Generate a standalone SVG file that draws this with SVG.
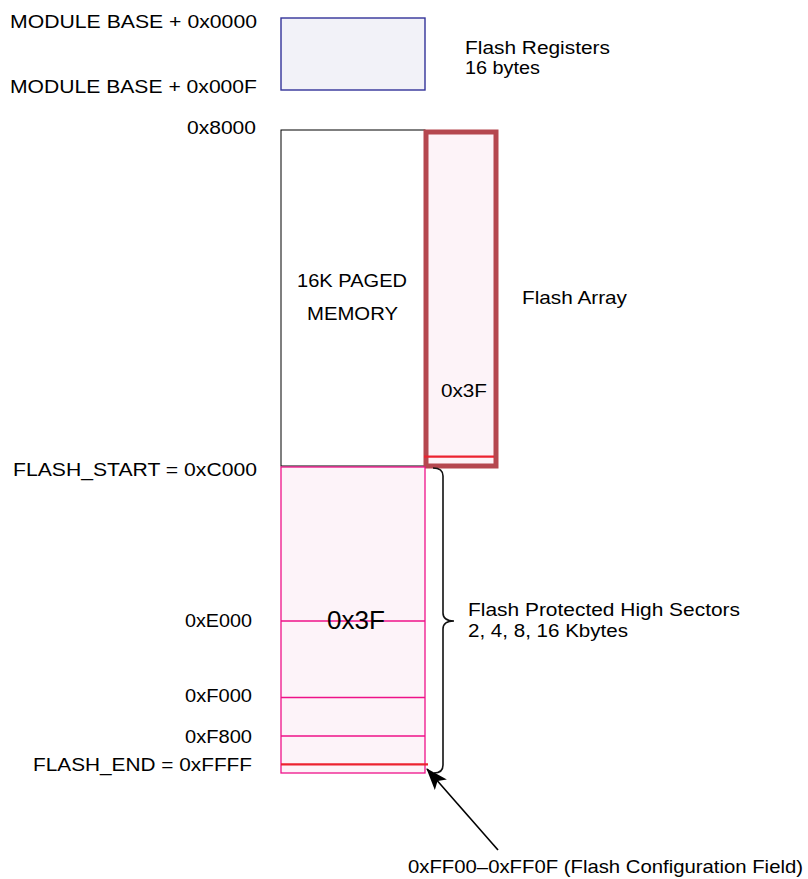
<svg xmlns="http://www.w3.org/2000/svg" width="808" height="879" viewBox="0 0 808 879">
<style>
text { font-family: "Liberation Sans", Arial, Helvetica, sans-serif; font-size: 18.5px; fill: #000; }
.sm { font-size: 17.5px; }
.sec { stroke: #ee1289; stroke-width: 1.3; fill: none; }
.red { stroke: #ec2330; stroke-width: 2.2; }
</style>
<defs>
<marker id="ah2" markerWidth="22" markerHeight="16" refX="21" refY="8" orient="auto" markerUnits="userSpaceOnUse" viewBox="0 0 22 16">
<path d="M0,0 L22,8 L0,16 L5,8 Z" fill="#000"/>
</marker>
</defs>

<g id="labels-left">
<text x="10" y="28" textLength="247" lengthAdjust="spacingAndGlyphs">MODULE BASE + 0x0000</text>
<text x="10" y="93" textLength="247" lengthAdjust="spacingAndGlyphs">MODULE BASE + 0x000F</text>
<text x="187" y="134" textLength="69" lengthAdjust="spacingAndGlyphs">0x8000</text>
<text x="13" y="476" textLength="244" lengthAdjust="spacingAndGlyphs">FLASH_START = 0xC000</text>
<text x="185" y="627" textLength="67" lengthAdjust="spacingAndGlyphs">0xE000</text>
<text x="185" y="702" textLength="67" lengthAdjust="spacingAndGlyphs">0xF000</text>
<text x="185" y="743" textLength="67" lengthAdjust="spacingAndGlyphs">0xF800</text>
<text x="33" y="771" textLength="219" lengthAdjust="spacingAndGlyphs">FLASH_END = 0xFFFF</text>
</g>

<g id="flash-registers">
<rect x="281" y="18" width="144" height="72" fill="#f2f2f8" stroke="#333399" stroke-width="1.4"/>
<text class="sm" x="465" y="54" textLength="145" lengthAdjust="spacingAndGlyphs">Flash Registers</text>
<text class="sm" x="465" y="74" textLength="75" lengthAdjust="spacingAndGlyphs">16 bytes</text>
</g>

<g id="paged-memory">
<rect x="281" y="130" width="144" height="336" fill="#ffffff" stroke="#000" stroke-width="1"/>
<text x="297" y="287" textLength="110" lengthAdjust="spacingAndGlyphs">16K PAGED</text>
<text x="307" y="320" textLength="91" lengthAdjust="spacingAndGlyphs">MEMORY</text>
</g>

<g id="flash-array">
<rect x="426" y="132" width="70" height="334" fill="#fdf3f8" stroke="#b5474f" stroke-width="5"/>
<line x1="424" y1="456.7" x2="494" y2="456.7" class="red"/>
<text x="441" y="397" textLength="46" lengthAdjust="spacingAndGlyphs">0x3F</text>
<text x="522" y="304" textLength="105" lengthAdjust="spacingAndGlyphs">Flash Array</text>
</g>

<g id="protected-sectors">
<rect x="281" y="467" width="144" height="306" fill="#fdf3f9" stroke="#ee1289" stroke-width="1.3"/>
<line x1="281" y1="621" x2="425" y2="621" class="sec"/>
<line x1="281" y1="697.5" x2="425" y2="697.5" class="sec"/>
<line x1="281" y1="736" x2="425" y2="736" class="sec"/>
<line x1="281" y1="764.3" x2="428" y2="764.3" class="red"/>
<text x="327" y="629" textLength="58" lengthAdjust="spacingAndGlyphs" style="font-size:26px">0x3F</text>
<text class="sm" x="468" y="616" textLength="272" lengthAdjust="spacingAndGlyphs">Flash Protected High Sectors</text>
<text class="sm" x="468" y="637" textLength="160" lengthAdjust="spacingAndGlyphs">2, 4, 8, 16 Kbytes</text>
</g>

<g id="connectors">
<path d="M433,468 Q443,468 443,476 L443,613 Q443,621 454,621 Q443,621 443,629 L443,765 Q443,773 434,773" fill="none" stroke="#111" stroke-width="1.6"/>
<line x1="498" y1="850" x2="427" y2="769" stroke="#000" stroke-width="1.6" marker-end="url(#ah2)"/>
</g>

<g id="config-field">
<text x="408" y="873" textLength="395" lengthAdjust="spacingAndGlyphs">0xFF00–0xFF0F (Flash Configuration Field)</text>
</g>
</svg>
